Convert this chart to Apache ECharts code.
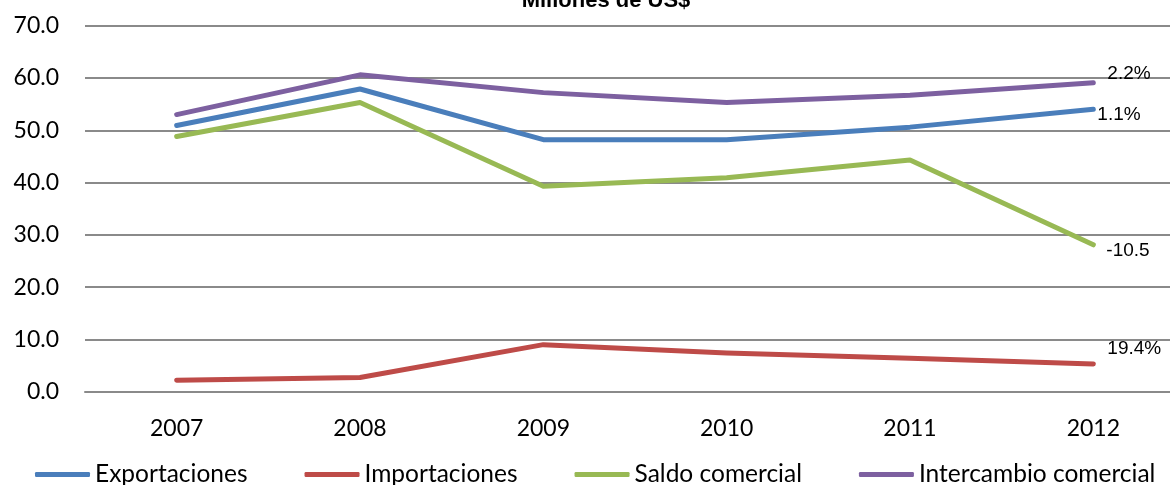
<!DOCTYPE html>
<html>
<head>
<meta charset="utf-8">
<script src="https://cdn.jsdelivr.net/npm/echarts@6/dist/echarts.min.js"></script>
<style>
html,body{margin:0;padding:0;background:#fff;}
#chart{width:1170px;height:485px;}
</style>
</head>
<body>
<div id="chart"></div>
<script>
var titleText = 'Millones de US$';
var categories = ['2007','2008','2009','2010','2011','2012'];
var seriesNames = ['Exportaciones','Importaciones','Saldo comercial','Intercambio comercial'];
var exportaciones = [50.9, 57.9, 48.2, 48.2, 50.6, 54.0];
var importaciones = [2.2, 2.7, 9.0, 7.4, 6.4, 5.3];
var saldoComercial = [48.8, 55.3, 39.3, 40.9, 44.3, 28.1];
var intercambioComercial = [53.0, 60.6, 57.2, 55.3, 56.7, 59.1];
var endLabels = ['1.1%', '19.4%', '-10.5', '2.2%'];
var yTicks = {min: 0, max: 70, interval: 10};

var colors = ['#4A7EBB', '#BE4B48', '#98B954', '#7D60A0'];
var labelOffsets = [[0, 5], [10, -15], [9, 6], [10, -9]];
var allData = [exportaciones, importaciones, saldoComercial, intercambioComercial];

var labelFont = '"Liberation Sans Narrow", "Liberation Sans", Arial, sans-serif';
var axisFont = 'Lato, "Open Sans", sans-serif';

var series = allData.map(function (vals, i) {
  return {
    name: seriesNames[i],
    type: 'line',
    data: vals,
    symbol: 'none',
    showSymbol: false,
    smooth: false,
    lineStyle: {width: 5, color: colors[i], cap: 'round', join: 'round'},
    itemStyle: {color: colors[i]},
    endLabel: {
      show: true,
      formatter: endLabels[i],
      offset: labelOffsets[i],
      distance: 4,
      color: '#000',
      fontSize: 19,
      fontFamily: labelFont
    },
    emphasis: {disabled: true},
    z: 3 + i
  };
});

var chart = echarts.init(document.getElementById('chart'), null, {renderer: 'canvas'});
chart.setOption({
  animation: false,
  backgroundColor: '#fff',
  color: colors,
  title: {
    text: titleText,
    left: 601,
    textAlign: 'center',
    top: -15,
    textStyle: {fontSize: 22, fontWeight: 'bold', color: '#000', fontFamily: 'Liberation Sans, Arial, sans-serif'}
  },
  grid: {left: 85, right: -15, top: 25.7, bottom: 93.3, containLabel: false, outerBoundsMode: 'none'},
  legend: {
    data: seriesNames,
    left: 30,
    top: 457,
    itemWidth: 55,
    itemHeight: 5,
    itemGap: 57,
    icon: 'roundRect',
    textStyle: {fontSize: 24.5, color: '#000', fontFamily: axisFont}
  },
  xAxis: {
    type: 'category',
    data: categories,
    boundaryGap: true,
    axisLine: {show: true, lineStyle: {color: '#8a8a8a', width: 2}},
    axisTick: {show: false},
    axisLabel: {color: '#000', fontSize: 23, margin: 25, fontFamily: axisFont}
  },
  yAxis: {
    type: 'value',
    min: yTicks.min,
    max: yTicks.max,
    interval: yTicks.interval,
    axisLine: {show: false},
    axisTick: {show: false},
    splitLine: {lineStyle: {color: '#8a8a8a', width: 2}},
    axisLabel: {
      color: '#000', fontSize: 23, margin: 26, fontFamily: axisFont,
      formatter: function (v) { return v.toFixed(1); }
    }
  },
  series: series
});
</script>
</body>
</html>
